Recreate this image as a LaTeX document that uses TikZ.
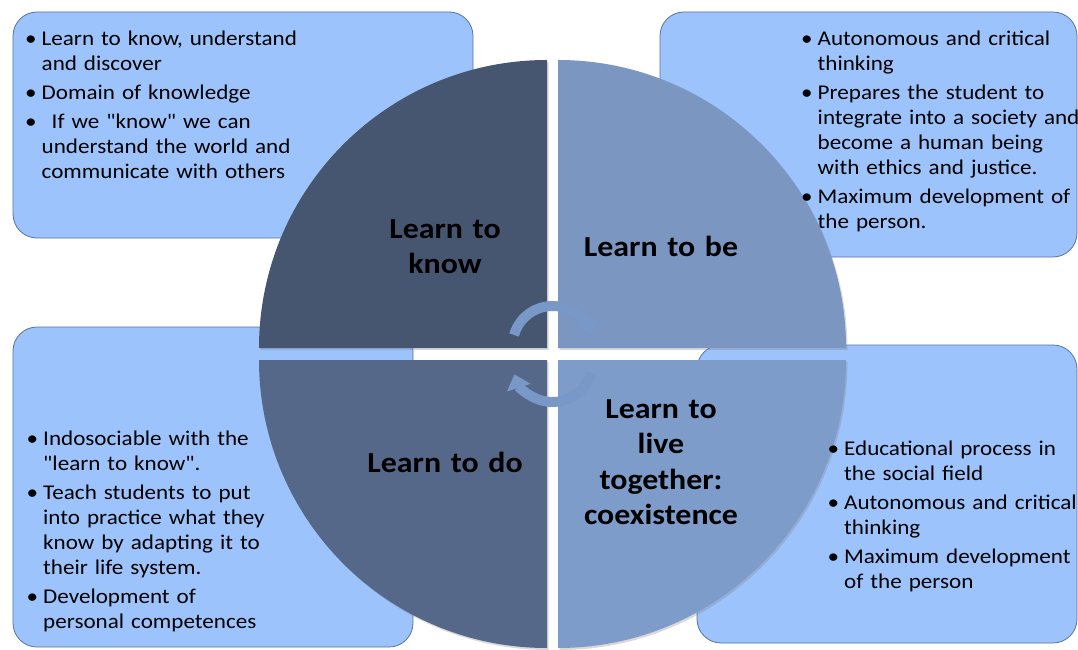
\documentclass[tikz,border=0pt]{standalone}
\usepackage{fontspec}
\setmainfont{Carlito}[FakeStretch=1.1,Ligatures=TeXOff]
\usepackage{tikz}
\usetikzlibrary{calc}
\usetikzlibrary{arrows.meta,shadows,positioning}
\usepackage{xcolor}
\definecolor{boxblue}{RGB}{157,195,252}
\definecolor{boxline}{RGB}{85,115,165}
\definecolor{knowcol}{RGB}{71,86,112}
\definecolor{becol}{RGB}{122,150,193}
\definecolor{docol}{RGB}{85,104,138}
\definecolor{livecol}{RGB}{125,156,202}
\definecolor{turncol}{RGB}{120,152,200}
\newcommand{\bmark}{\hangindent=11.5pt\hangafter=1\noindent\makebox[11.5pt][l]{\hspace{-5pt}•}}
\newcommand{\bone}{\bmark}
\newcommand{\bt}{\par\addvspace{4pt}\bmark}
\newcommand{\nl}{\newline}

\begin{document}
\begin{tikzpicture}[x=1pt,y=-1pt,
    infobox/.style={draw=boxline,fill=boxblue,line width=.8pt,rounded corners=24pt},
    infotext/.style={anchor=base west,inner sep=0pt,text width=290pt,align=left,
      font=\fontsize{21}{25}\selectfont},
    quarter/.style={drop shadow={shadow xshift=1.5pt,shadow yshift=-2pt,opacity=.3}},
    titletext/.style={anchor=base,inner sep=0pt,text width=190pt,align=center,
      font=\fontsize{29}{35.5}\selectfont\bfseries},
    cyclearrow/.style={draw=turncol,line width=10pt,-{Triangle[width=24pt,length=14pt]}}]
    \useasboundingbox (0,0) rectangle (1078,650);

    \draw[infobox] (13,12) rectangle (473,238);
    \draw[infobox] (660,12) rectangle (1077,257);
    \draw[infobox] (13,327) rectangle (413,647);
    \draw[infobox] (697,345) rectangle (1077,643);

    \fill[knowcol,quarter] (547,348) -- (259,348) arc[start angle=180,end angle=270,radius=288] -- cycle;
    \fill[becol,quarter] (558,348) -- (558,60) arc[start angle=270,end angle=360,radius=288] -- cycle;
    \fill[livecol,quarter] (558,360) -- (846,360) arc[start angle=0,end angle=90,radius=288] -- cycle;
    \fill[docol,quarter] (547,360) -- (547,648) arc[start angle=90,end angle=180,radius=288] -- cycle;

    \node[titletext] (know) at (445,238) {Learn to\\know};
    \node[titletext] (be) at (661,256.7) {Learn to be};
    \node[titletext] (do) at (445,472) {Learn to do};
    \node[titletext] (live) at (661,418) {Learn to\\live\\together:\\coexistence};

    \draw[cyclearrow] (552.5,346) ++(196:40) arc[start angle=196,end angle=345,radius=40];
    \draw[cyclearrow] (552.5,362) ++(16:40) arc[start angle=16,end angle=162,radius=40];

    \node[infotext] (knowlist) at (30,46) {\bone Learn to know, understand\nl and discover
      \bt Domain of knowledge
      \bt\hspace{10pt}If we "know" we can\nl understand the world and\nl communicate with others\par};
    \node[infotext] (belist) at (806,46) {\bone Autonomous and critical\nl thinking
      \bt Prepares the student to\nl integrate into a society and\nl become a human being\nl with ethics and justice.
      \bt Maximum development of\nl the person.\par};
    \node[infotext] (dolist) at (31.5,445) {\bone Indosociable with the\nl "learn to know".
      \bt Teach students to put\nl into practice what they\nl know by adapting it to\nl their life system.
      \bt Development of\nl personal competences\par};
    \node[infotext] (livelist) at (832.5,455) {\bone Educational process in\nl the social field
      \bt Autonomous and critical\nl thinking
      \bt Maximum development\nl of the person\par};
\end{tikzpicture}
\end{document}
